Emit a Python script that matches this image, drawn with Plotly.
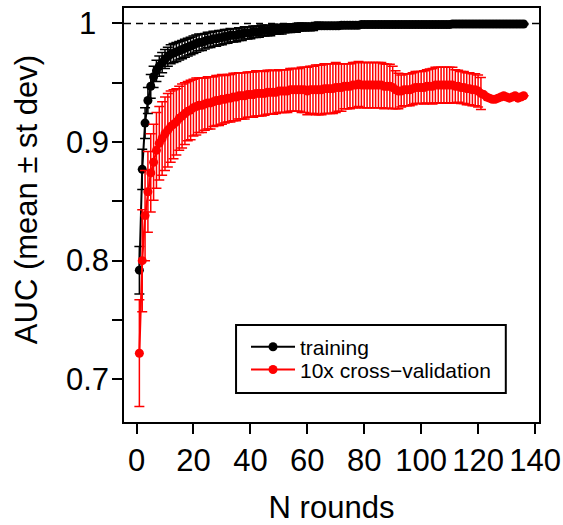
import plotly.graph_objects as go

# ---------------- data ----------------
n_rounds = list(range(1, 137))

train_mean = [
    0.792, 0.877, 0.916, 0.935, 0.947, 0.955, 0.960, 0.964, 0.967, 0.970,
    0.972, 0.974, 0.975, 0.976, 0.977, 0.978, 0.979, 0.980, 0.981, 0.982,
    0.983, 0.984, 0.984, 0.985, 0.986, 0.986, 0.987, 0.987, 0.988, 0.988,
    0.989, 0.989, 0.990, 0.990, 0.990, 0.991, 0.991, 0.992, 0.992, 0.992,
    0.993, 0.993, 0.993, 0.994, 0.994, 0.994, 0.994, 0.995, 0.995, 0.995,
    0.995, 0.996, 0.996, 0.996, 0.996, 0.996, 0.997, 0.997, 0.997, 0.997,
    0.997, 0.997, 0.998, 0.998, 0.998, 0.998, 0.998, 0.998, 0.998, 0.998,
    0.998, 0.9985, 0.9985, 0.9985, 0.9985, 0.9985, 0.9985, 0.9985, 0.999, 0.999,
    0.999, 0.999, 0.999, 0.999, 0.999, 0.999, 0.999, 0.999, 0.999, 0.999,
    0.999, 0.999, 0.999, 0.999, 0.999, 0.999, 0.999, 0.999, 0.999, 0.999,
    0.999, 0.999, 0.999, 0.999, 0.999, 0.999, 0.999, 0.999, 0.999, 0.999,
    0.9995, 0.9995, 0.9995, 0.9995, 0.9995, 0.9995, 0.9995, 0.9995, 0.9995, 0.9995,
    0.9995, 0.9995, 0.9995, 0.9995, 0.9995, 0.9995, 0.9995, 0.9995, 0.9995, 0.9995,
    0.9995, 0.9995, 0.9995, 0.9995, 0.9995, 0.9995,
]

train_sd = [
    0.020, 0.017, 0.013, 0.011, 0.010, 0.009, 0.009, 0.0085, 0.0085, 0.008,
    0.008, 0.008, 0.008, 0.008, 0.0078, 0.0077, 0.0076, 0.0075, 0.0074, 0.0073,
    0.0072, 0.007, 0.0068, 0.0066, 0.0065, 0.0064, 0.0063, 0.0062, 0.0061, 0.006,
    0.0059, 0.0058, 0.0057, 0.0056, 0.0055, 0.0054, 0.0053, 0.0052, 0.0051, 0.005,
    0.0049, 0.0048, 0.0047, 0.0046, 0.0045, 0.0044, 0.0043, 0.0042, 0.0041, 0.004,
    0.0039, 0.0038, 0.0037, 0.0036, 0.0035, 0.0034, 0.0033, 0.0032, 0.0031, 0.003,
    0.003, 0.0029, 0.0028, 0.0027, 0.0026, 0.0026, 0.0025, 0.0025, 0.0024, 0.0024,
    0.0023, 0.0023, 0.0022, 0.0022, 0.0021, 0.0021, 0.002, 0.002, 0.002, 0.002,
    0.0019, 0.0019, 0.0018, 0.0018, 0.0017, 0.0017, 0.0016, 0.0016, 0.0015, 0.0015,
    0.0015, 0.0014, 0.0014, 0.0014, 0.0013, 0.0013, 0.0013, 0.0012, 0.0012, 0.0012,
    0.0011, 0.0011, 0.0011, 0.001, 0.001, 0.001, 0.001, 0.001, 0.001, 0.001,
    0.0009, 0.0009, 0.0009, 0.0008, 0.0008, 0.0008, 0.0008, 0.0007, 0.0007, 0.0007,
    0.0007, 0.0006, 0.0006, 0.0006, 0.0006, 0.0006, 0.0005, 0.0005, 0.0005, 0.0005,
    0.0005, 0.0005, 0.0005, 0.0005, 0.0005, 0.0005,
]

cv_mean = [
    0.722, 0.800, 0.838, 0.858, 0.874, 0.883, 0.893, 0.899, 0.903, 0.907,
    0.910, 0.913, 0.915, 0.917, 0.920, 0.922, 0.924, 0.926, 0.927, 0.929,
    0.930, 0.931, 0.931, 0.932, 0.933, 0.933, 0.934, 0.935, 0.935, 0.936,
    0.936, 0.937, 0.937, 0.938, 0.938, 0.939, 0.939, 0.939, 0.940, 0.940,
    0.940, 0.941, 0.941, 0.941, 0.941, 0.942, 0.942, 0.942, 0.942, 0.943,
    0.943, 0.943, 0.943, 0.944, 0.944, 0.944, 0.944, 0.944, 0.944, 0.943,
    0.944, 0.944, 0.944, 0.944, 0.944, 0.945, 0.945, 0.945, 0.945, 0.946,
    0.946, 0.946, 0.947, 0.947, 0.947, 0.948, 0.948, 0.949, 0.948, 0.948,
    0.948, 0.948, 0.948, 0.948, 0.948, 0.948, 0.947, 0.947, 0.947, 0.946,
    0.944, 0.943, 0.943, 0.944, 0.944, 0.944, 0.945, 0.946, 0.946, 0.946,
    0.946, 0.947, 0.947, 0.947, 0.948, 0.948, 0.948, 0.948, 0.948, 0.948,
    0.948, 0.947, 0.947, 0.946, 0.946, 0.945, 0.945, 0.944, 0.944, 0.943,
    0.941, 0.940, 0.938, 0.937, 0.936, 0.936, 0.937, 0.938, 0.939, 0.938,
    0.937, 0.938, 0.939, 0.937, 0.938, 0.939,
]

cv_sd = [
    0.045, 0.043, 0.038, 0.034, 0.033, 0.032, 0.032, 0.031, 0.031, 0.031,
    0.031, 0.030, 0.029, 0.028, 0.027, 0.027, 0.026, 0.025, 0.025, 0.024,
    0.024, 0.023, 0.023, 0.022, 0.022, 0.022, 0.021, 0.021, 0.021, 0.021,
    0.020, 0.020, 0.020, 0.020, 0.020, 0.0195, 0.0195, 0.0195, 0.019, 0.019,
    0.019, 0.019, 0.019, 0.019, 0.0185, 0.0185, 0.0185, 0.0185, 0.018, 0.018,
    0.018, 0.018, 0.018, 0.018, 0.018, 0.018, 0.018, 0.019, 0.019, 0.020,
    0.020, 0.020, 0.021, 0.021, 0.021, 0.021, 0.021, 0.021, 0.021, 0.021,
    0.020, 0.020, 0.019, 0.019, 0.019, 0.019, 0.019, 0.019, 0.019, 0.019,
    0.019, 0.019, 0.019, 0.019, 0.019, 0.019, 0.019, 0.0185, 0.0185, 0.018,
    0.016, 0.015, 0.0135, 0.0135, 0.0135, 0.0135, 0.0135, 0.0135, 0.0135, 0.0135,
    0.014, 0.014, 0.0145, 0.015, 0.015, 0.015, 0.015, 0.015, 0.015, 0.015,
    0.015, 0.014, 0.0135, 0.0135, 0.0135, 0.0135, 0.0135, 0.0135, 0.0135, 0.0135,
    0.0135, None, None, None, None, None, None, None, None, None,
    None, None, None, None, None, None,
]

x_tick_vals = [0, 20, 40, 60, 80, 100, 120, 140]
y_tick_vals = [0.70, 0.75, 0.80, 0.85, 0.90, 0.95, 1.00]
y_label_vals = [0.7, 0.8, 0.9, 1.0]
y_label_text = ["0.7", "0.8", "0.9", "1"]
reference_auc = 1.0

series_names = ["training", "10x cross\u2212validation"]
series_colors = ["black", "#ff0000"]

x_range = [-4.4, 141.4]
y_range = [0.664, 1.013]

FONT = "Liberation Sans, Arial, Helvetica, sans-serif"

# ---------------- figure ----------------
fig = go.Figure()

for name, mean, sd, col, lg in [
    (series_names[0], train_mean, train_sd, series_colors[0], "legend"),
    (series_names[1], cv_mean, cv_sd, series_colors[1], "legend2"),
]:
    fig.add_trace(go.Scatter(
        x=n_rounds, y=mean, name=name, mode="lines+markers", legend=lg,
        line=dict(color=col, width=2),
        marker=dict(color=col, size=9),
        error_y=dict(type="data", array=sd, symmetric=True, color=col,
                     thickness=1.5, width=5),
    ))

fig.add_shape(type="line", xref="paper", x0=0, x1=1, yref="y",
              y0=reference_auc, y1=reference_auc,
              line=dict(color="black", width=1.5, dash="7px,5px"), layer="below")

# legend frame
fig.add_shape(type="rect", xref="paper", yref="paper",
              x0=0.27, x1=0.920, y0=0.070, y1=0.2343,
              line=dict(color="black", width=2), fillcolor="white", layer="above")

for v, t in zip(y_label_vals, y_label_text):
    fig.add_annotation(text=t, xref="paper", x=-0.089, yref="y", y=v,
                       xanchor="center", yanchor="middle", showarrow=False,
                       font=dict(family=FONT, size=31, color="black"))

fig.add_annotation(text="AUC (mean \u00b1 st dev)", xref="paper", x=-0.236,
                   yref="paper", y=0.536, textangle=-90, showarrow=False,
                   xanchor="center", yanchor="middle",
                   font=dict(family=FONT, size=31, color="black"))

fig.update_xaxes(range=x_range, tickvals=x_tick_vals, ticks="outside",
                 ticklen=10, tickwidth=2, tickcolor="black",
                 showline=True, linecolor="black", linewidth=2, mirror=True,
                 showgrid=False, zeroline=False, automargin=False,
                 tickfont=dict(family=FONT, size=31, color="black"),
                 title=dict(text="N rounds", standoff=21,
                            font=dict(family=FONT, size=31, color="black")))
fig.update_yaxes(range=y_range, tickvals=y_tick_vals, showticklabels=False,
                 ticks="outside", ticklen=10, tickwidth=2, tickcolor="black",
                 showline=True, linecolor="black", linewidth=2, mirror=True,
                 showgrid=False, zeroline=False, automargin=False)

legend_common = dict(xanchor="left", yanchor="middle", itemwidth=44,
                     bgcolor="rgba(0,0,0,0)", borderwidth=0,
                     font=dict(family=FONT, size=21, color="black"))

fig.update_layout(
    width=563, height=525,
    margin=dict(l=124, r=24, t=8, b=103, autoexpand=False),
    paper_bgcolor="white", plot_bgcolor="white",
    showlegend=True,
    legend=dict(x=0.294, y=0.181, **legend_common),
    legend2=dict(x=0.294, y=0.126, **legend_common),
    font=dict(family=FONT, color="black"),
)

fig.write_html("out.html",
               config={"displayModeBar": False},
               post_script="document.body.style.margin='0';"
                           "document.body.style.overflow='hidden';")
